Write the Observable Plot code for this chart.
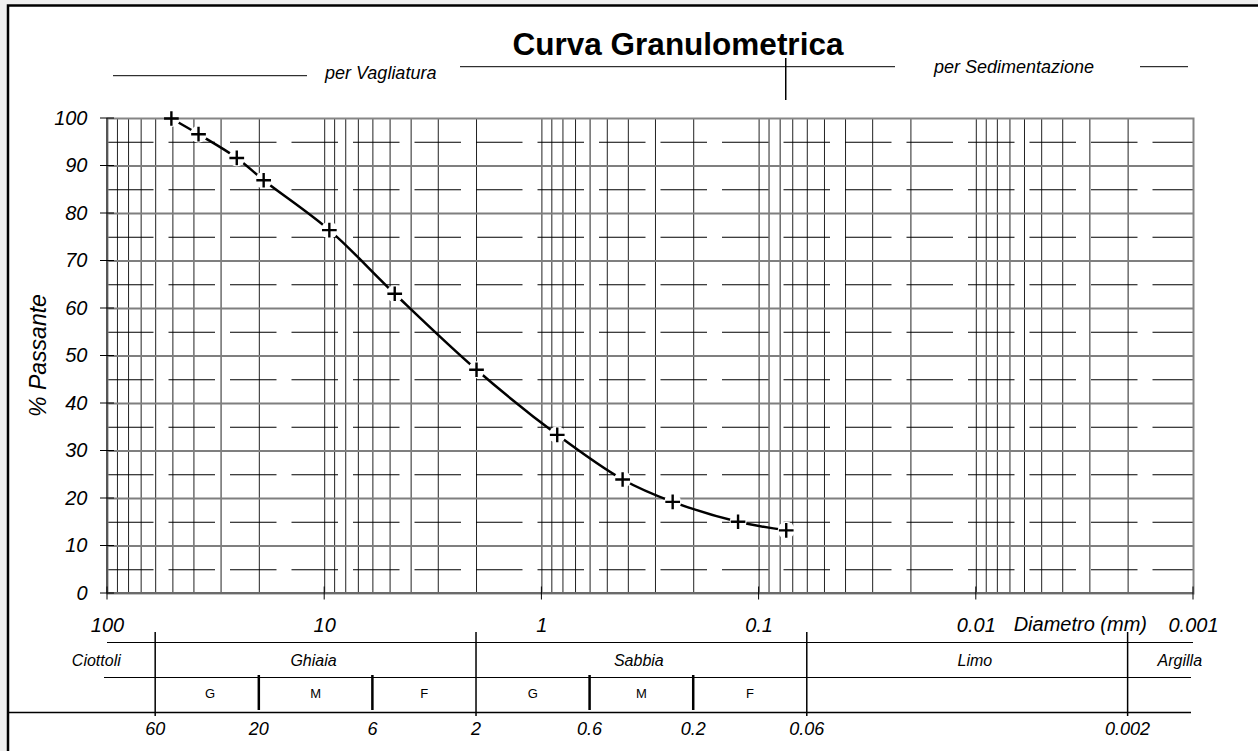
<!DOCTYPE html>
<html><head><meta charset="utf-8">
<script src="https://cdn.jsdelivr.net/npm/d3@7"></script>
<script src="https://cdn.jsdelivr.net/npm/@observablehq/plot@0.6"></script>
<style>
html,body{margin:0;padding:0;background:#fff;}
#chart svg{display:block;}
</style></head><body><div id="chart"></div>
<script>
// ---- data ----
const sieveDiameters = [50.8, 38.1, 25.4, 19.1, 9.52, 4.76, 2.0, 0.85, 0.425, 0.25, 0.125, 0.075];
const percentPassing = [100, 96.7, 91.7, 87.0, 76.5, 63.1, 47.1, 33.4, 24.0, 19.3, 15.1, 13.3];
const xTickValues = [100, 10, 1, 0.1, 0.01, 0.001];
const xTickLabels = ["100", "10", "1", "0.1", "0.01", "0.001"];
const yTickValues = [0, 10, 20, 30, 40, 50, 60, 70, 80, 90, 100];
const yMinorValues = [5, 15, 25, 35, 45, 55, 65, 75, 85, 95];
const classBoundaries = [60, 2, 0.06, 0.002];
const subBoundaries = [20, 6, 0.6, 0.2];
const boundaryLabelValues = [60, 20, 6, 2, 0.6, 0.2, 0.06, 0.002];
const boundaryLabels = ["60", "20", "6", "2", "0.6", "0.2", "0.06", "0.002"];
const classNames = ["Ciottoli", "Ghiaia", "Sabbia", "Limo", "Argilla"];
const classCenters = [112, 11.2, 0.356, 0.0101, 0.00115];
const subNames = ["G", "M", "F", "G", "M", "F"];
const subCenters = [33.5, 10.95, 3.46, 1.095, 0.346, 0.1095];
const methodSplit = 0.075;

const gridX = d3.range(-3, 2).flatMap(e => d3.range(1, 10).map(m => +(m * Math.pow(10, e)).toPrecision(3)));
const data = sieveDiameters.map((d, i) => ({d, p: percentPassing[i]}));
const FONT = "'Liberation Sans', Arial, Helvetica, sans-serif";

const chart = Plot.plot({
  width: 1258, height: 751,
  marginLeft: 107, marginRight: 65, marginTop: 118, marginBottom: 158,
  style: {background: "transparent", fontFamily: FONT, overflow: "visible"},
  x: {type: "log", domain: [100, 0.001], axis: null},
  y: {domain: [0, 100], axis: null},
  marks: [
    Plot.ruleX(gridX, {stroke: "#222", strokeWidth: 1}),
    Plot.ruleY(yMinorValues, {stroke: "#000", strokeWidth: 1, strokeDasharray: "46.5,15"}),
    Plot.ruleY(yTickValues.slice(1, -1), {stroke: "#7f7f7f", strokeWidth: 2}),
    Plot.line(data, {x: "d", y: "p", curve: "catmull-rom", stroke: "#000", strokeWidth: 2.5}),
    Plot.dot(data, {x: "d", y: "p", r: 8.5, fill: "#fff", stroke: "none"}),
    Plot.frame({stroke: "#858585", strokeWidth: 2}),
    Plot.dot(data, {x: "d", y: "p", symbol: "plus", r: 4.8, stroke: "#000", strokeWidth: 2.4}),
    Plot.text(yTickValues, {y: d => d, frameAnchor: "left", dx: -20, textAnchor: "end",
      text: d => String(d), fontSize: 20, fontStyle: "italic", fontFamily: FONT, fill: "#000"}),
    Plot.text(xTickValues, {x: d => d, frameAnchor: "bottom", dy: 38, lineAnchor: "bottom",
      text: (d, i) => xTickLabels[i], fontSize: 20, fontStyle: "italic", fontFamily: FONT, fill: "#000"})
  ]
});
document.getElementById("chart").appendChild(chart);

const xs = chart.scale("x"), ys = chart.scale("y");
const X = v => xs.apply(v), Y = v => ys.apply(v);
const svg = d3.select(chart);
svg.insert("rect", ":first-child").attr("x", 8).attr("y", 5).attr("width", 1250).attr("height", 746).attr("fill", "#fff");
svg.insert("rect", ":first-child").attr("width", 1258).attr("height", 751).attr("fill", "#efefef");

const g = svg.append("g").attr("font-family", FONT).attr("fill", "#000");
function line(x1, y1, x2, y2, w = 1, c = "#000") {
  g.append("line").attr("x1", x1).attr("y1", y1).attr("x2", x2).attr("y2", y2)
    .attr("stroke", c).attr("stroke-width", w);
}
function text(t, x, y, size, opts = {}) {
  const el = g.append("text").attr("x", x).attr("y", y).attr("font-size", size)
    .attr("text-anchor", opts.anchor || "middle").text(t);
  if (opts.italic) el.attr("font-style", "italic");
  if (opts.bold) el.attr("font-weight", "bold");
  return el;
}

// outer frame
g.append("path").attr("d", "M8,751V5.5H1258").attr("fill", "none").attr("stroke", "#000").attr("stroke-width", 2.5);

// axes lines
const x0 = X(100), x1 = X(0.001), y0 = Y(0), y1 = Y(100);
line(x0, y1, x0, y0, 2, "#555");
line(x0, y0, x1, y0, 2, "#6a6a6a");
xTickValues.forEach(v => line(X(v), y0 - 6.5, X(v), y0 + 6.5, 1));
yTickValues.forEach(v => line(x0 - 7, Y(v), x0 + 7, Y(v), 1));

// axis titles
text("Diametro (mm)", x1 - 46, 631, 20, {italic: true, anchor: "end"});
g.append("text").attr("transform", `translate(46,${(y0 + y1) / 2}) rotate(-90)`)
  .attr("text-anchor", "middle").attr("font-size", 23).attr("font-style", "italic").text("% Passante");

// header
text("Curva Granulometrica", 678, 55, 31.5, {bold: true});
line(113, 75.7, 307, 75.7, 1);
text("per Vagliatura", 325, 79, 18, {italic: true, anchor: "start"});
line(460, 66.7, 895, 66.7, 1);
line(X(methodSplit), 58, X(methodSplit), 100, 1.5);
text("per Sedimentazione", 934, 73, 18, {italic: true, anchor: "start"});
line(1140, 66.7, 1188, 66.7, 1);

// classification table
line(x0, 642.5, x1, 642.5, 1);
line(104, 677.5, 1191, 677.5, 1);
line(7, 712.5, 1191, 712.5, 1.5);
classBoundaries.forEach(v => line(X(v), 632, X(v), 716, 1.5));
subBoundaries.forEach(v => line(X(v), 675, X(v), 710, 2.5));
classNames.forEach((n, i) => text(n, X(classCenters[i]), 666, 16, {italic: true}));
subNames.forEach((n, i) => text(n, X(subCenters[i]), 698, 13));
boundaryLabels.forEach((n, i) => text(n, X(boundaryLabelValues[i]), 735, 18, {italic: true}));
</script></body></html>
